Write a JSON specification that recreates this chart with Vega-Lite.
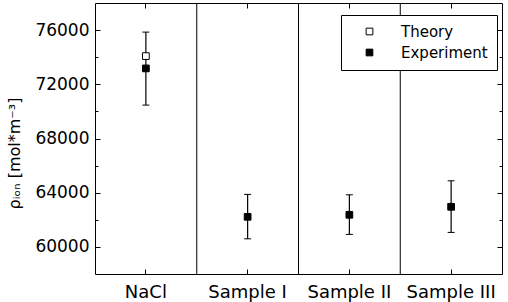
{
  "$schema": "https://vega.github.io/schema/vega-lite/v6.json",
  "width": 407,
  "height": 271,
  "autosize": {"type": "none"},
  "padding": {"left": 95, "top": 3, "right": 6, "bottom": 28},
  "background": "white",
  "config": {
    "view": {"stroke": "black", "strokeWidth": 1},
    "font": "DejaVu Sans",
    "axis": {
      "domain": false,
      "grid": false,
      "tickColor": "black",
      "tickWidth": 1,
      "labelColor": "black",
      "titleColor": "black",
      "labelFont": "DejaVu Sans",
      "titleFont": "DejaVu Sans",
      "titleFontWeight": "normal"
    }
  },
  "datasets": {
    "bars": [
      {"sample": "NaCl", "lo": 70465, "hi": 75852},
      {"sample": "Sample I", "lo": 60597, "hi": 63875},
      {"sample": "Sample II", "lo": 60923, "hi": 63845},
      {"sample": "Sample III", "lo": 61070, "hi": 64878}
    ],
    "points": [
      {"sample": "NaCl", "series": "Theory", "rho": 74081},
      {"sample": "NaCl", "series": "Experiment", "rho": 73173},
      {"sample": "Sample I", "series": "Experiment", "rho": 62221},
      {"sample": "Sample II", "series": "Experiment", "rho": 62369},
      {"sample": "Sample III", "series": "Experiment", "rho": 62959}
    ],
    "seps": [
      {"sample": "Sample I"},
      {"sample": "Sample II"},
      {"sample": "Sample III"}
    ]
  },
  "layer": [
    {
      "data": {"name": "bars"},
      "mark": {
        "type": "errorbar",
        "ticks": {"size": 7, "color": "black", "strokeWidth": 1, "opacity": 1},
        "rule": {"color": "black", "strokeWidth": 1.2, "opacity": 1}
      },
      "encoding": {
        "x": {
          "field": "sample",
          "type": "nominal",
          "scale": {"type": "band", "domain": ["NaCl", "Sample I", "Sample II", "Sample III"], "paddingInner": 0, "paddingOuter": 0},
          "axis": {"orient": "bottom", "title": null, "labelAngle": 0, "labelFontSize": 18, "tickSize": -5, "labelPadding": 14}
        },
        "y": {
          "field": "lo",
          "type": "quantitative",
          "scale": {"domain": [58000, 78000], "nice": false, "zero": false},
          "axis": {
            "orient": "left",
            "values": [60000, 62000, 64000, 66000, 68000, 70000, 72000, 74000, 76000],
            "format": "d",
            "labelExpr": "datum.value % 4000 === 0 ? datum.label : ''",
            "labelFontSize": 17,
            "tickSize": {"condition": {"test": "datum.value % 4000 === 0", "value": -5}, "value": -3},
            "labelPadding": 11,
            "title": "ρᵢₒₙ [mol*m⁻³]",
            "titleFontSize": 16,
            "titleAngle": -90,
            "titleX": -76,
            "titleY": 150,
            "titleAlign": "center",
            "titleBaseline": "alphabetic"
          }
        },
        "y2": {"field": "hi"}
      }
    },
    {
      "data": {"name": "seps"},
      "mark": {"type": "rule", "color": "black", "strokeWidth": 1},
      "encoding": {
        "x": {"field": "sample", "type": "nominal", "bandPosition": 0, "axis": null}
      }
    },
    {
      "data": {"name": "points"},
      "mark": {"type": "point", "shape": "square", "filled": true, "stroke": "black", "strokeWidth": 1, "size": 45, "opacity": 1},
      "encoding": {
        "x": {
          "field": "sample",
          "type": "nominal",
          "axis": {"orient": "top", "title": null, "labels": false, "tickSize": -5}
        },
        "y": {
          "field": "rho",
          "type": "quantitative",
          "axis": {
            "orient": "right",
            "title": null,
            "labels": false,
            "tickSize": {"condition": {"test": "datum.value % 4000 === 0", "value": -5}, "value": -3},
            "values": [60000, 62000, 64000, 66000, 68000, 70000, 72000, 74000, 76000]
          }
        },
        "fill": {
          "field": "series",
          "type": "nominal",
          "scale": {"domain": ["Theory", "Experiment"], "range": ["white", "black"]},
          "legend": {
            "orient": "none",
            "legendX": 246,
            "legendY": 12,
            "title": null,
            "strokeColor": "black",
            "fillColor": "white",
            "padding": 9,
            "symbolType": "square",
            "symbolSize": 45,
            "symbolStrokeColor": "black",
            "symbolStrokeWidth": 1,
            "symbolOffset": 12,
            "labelOffset": 24,
            "labelFontSize": 15,
            "labelFont": "DejaVu Sans",
            "labelColor": "black",
            "rowPadding": 5
          }
        }
      }
    }
  ],
  "resolve": {"axis": {"x": "independent", "y": "independent"}}
}
